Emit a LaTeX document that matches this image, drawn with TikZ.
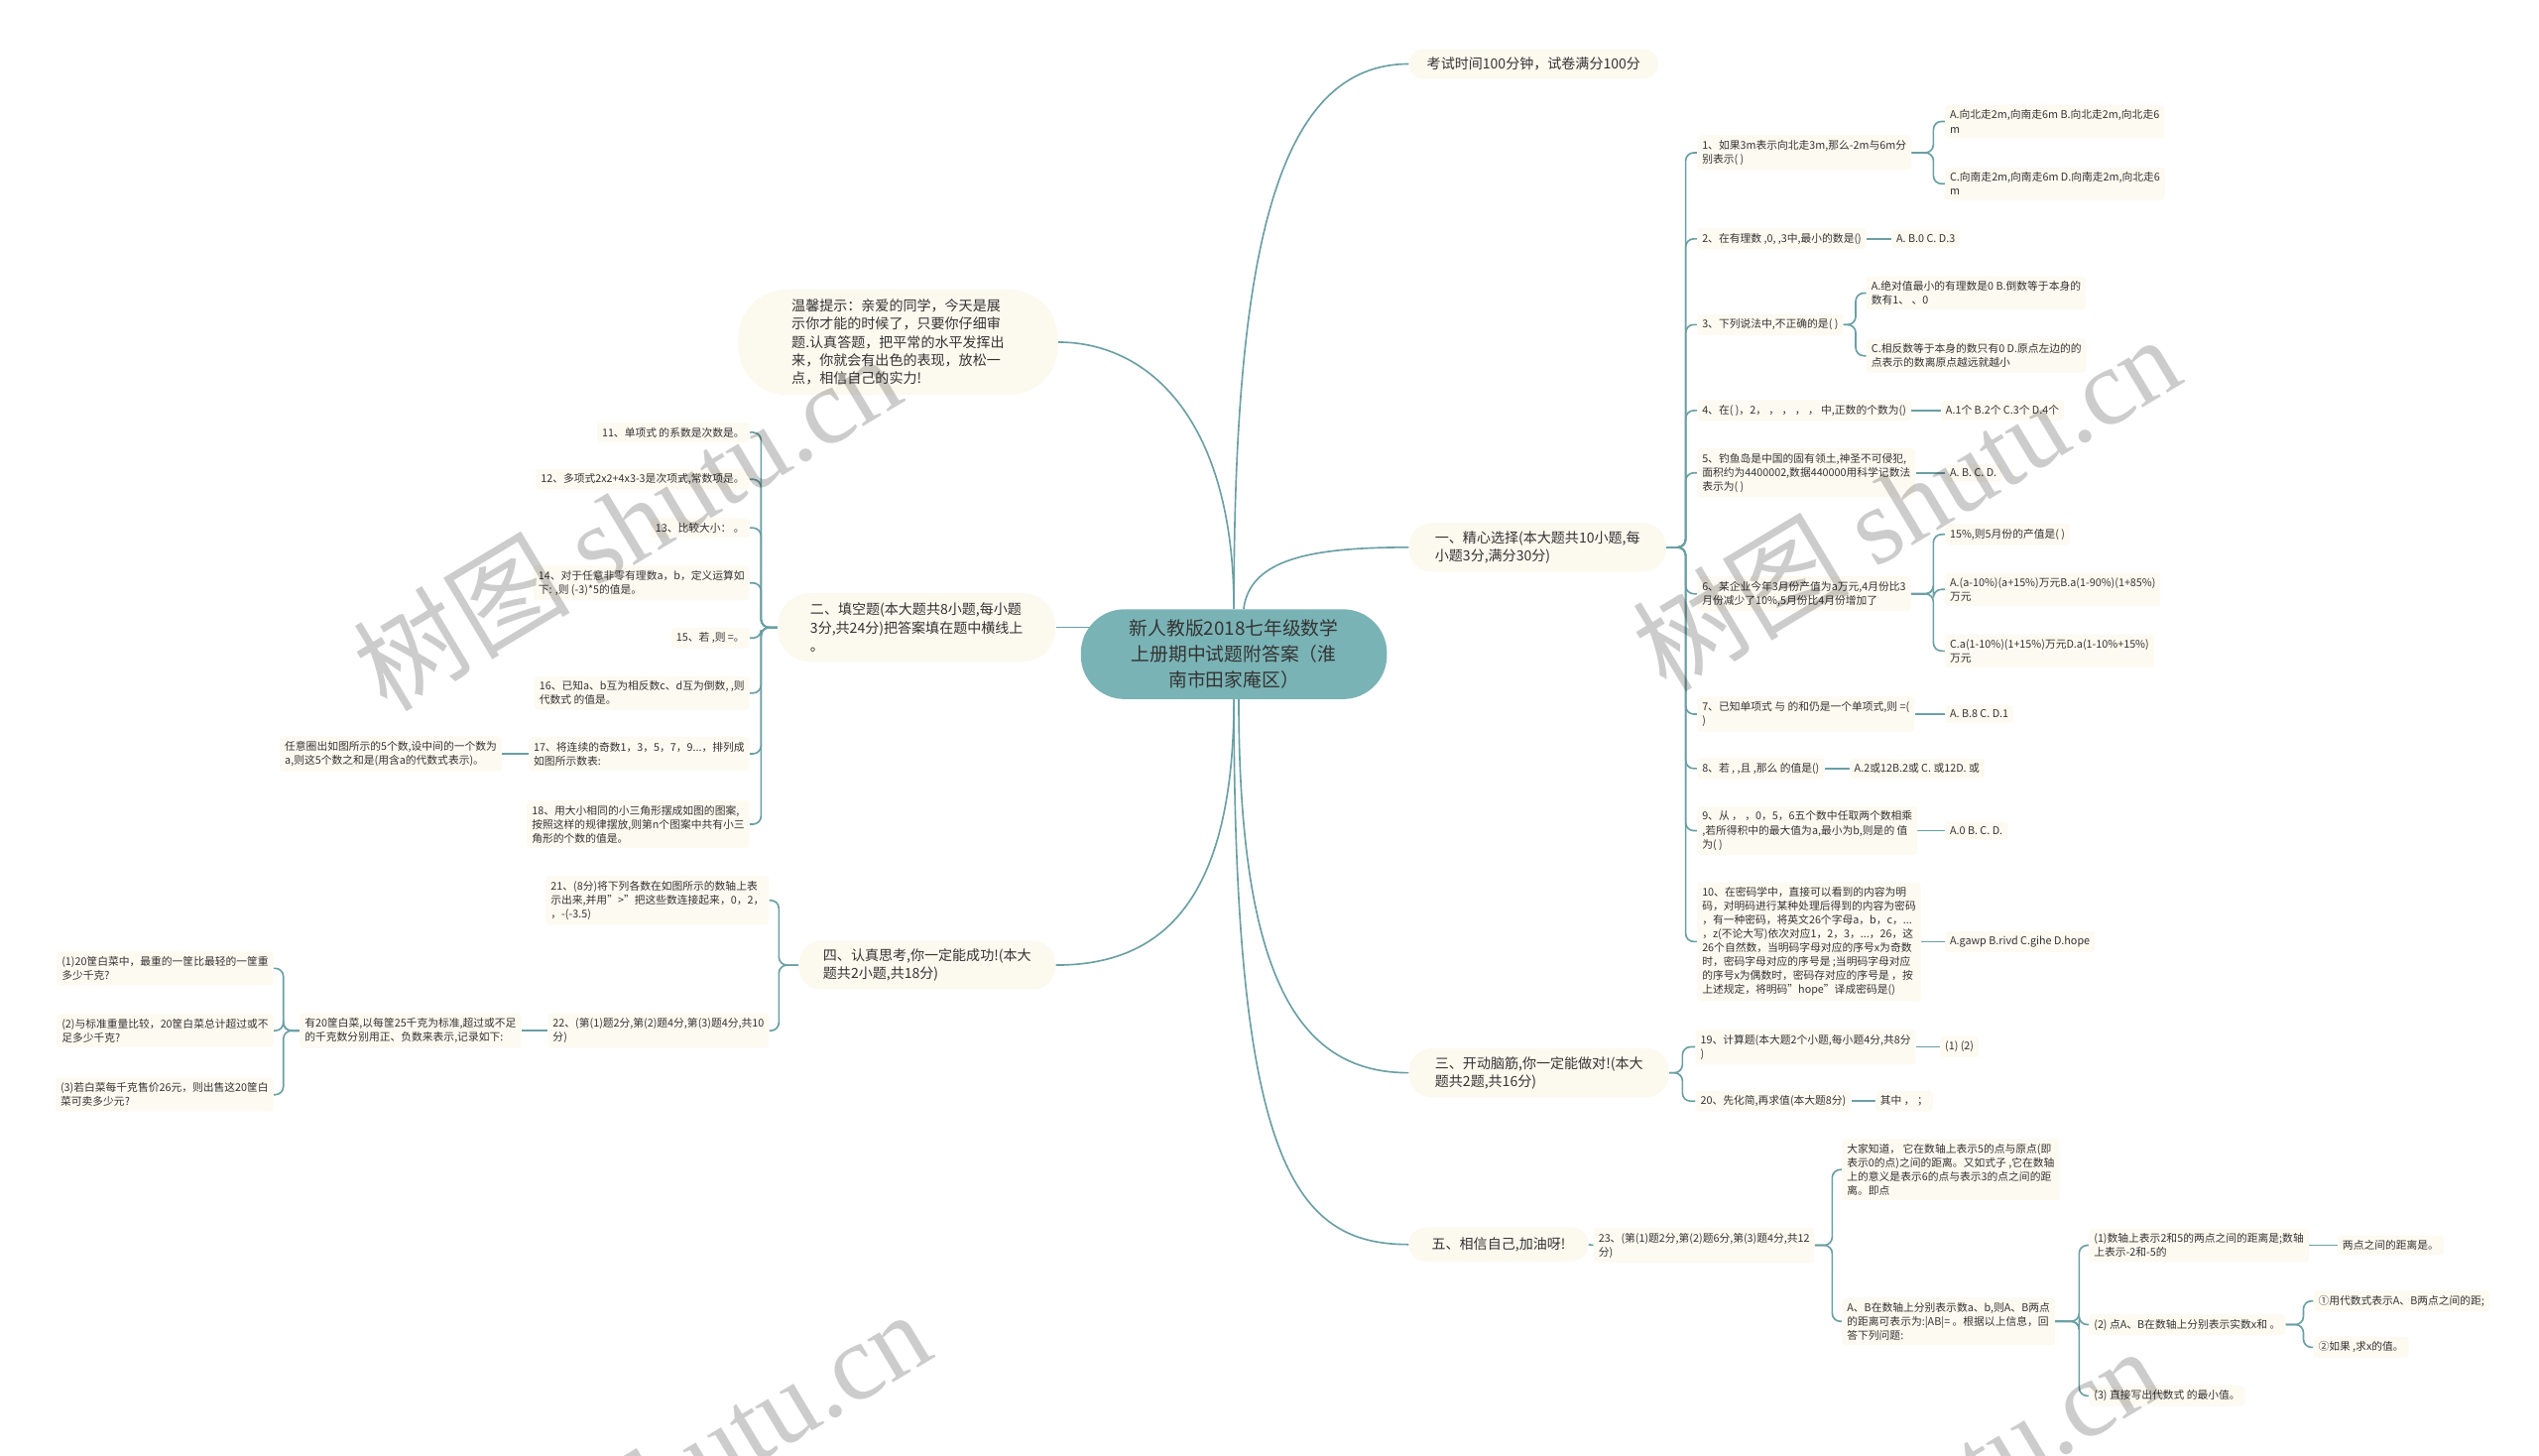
\documentclass[tikz,border=0pt]{standalone}
\usepackage{fontspec}
\setmainfont{Noto Sans CJK SC}
\newfontfamily\wmcjk{Noto Sans CJK SC}
\newfontfamily\wmlat{Liberation Serif}
\usetikzlibrary{backgrounds}
\definecolor{lnc}{HTML}{6A9FA4}
\definecolor{ctr}{HTML}{7AB3B5}
\definecolor{pillc}{HTML}{FCF9EF}
\definecolor{leafc}{HTML}{FDFAF1}
\definecolor{txt}{HTML}{333333}
\newcommand\myfs{\fontsize{6.6}{8.6}\selectfont}
\newcommand\myfm{\fontsize{8.6}{11.2}\selectfont}
\newcommand\myfc{\fontsize{11.5}{15.8}\selectfont}
\newcommand\wmtext{{\wmcjk 树图}\hspace{16pt}{\wmlat shutu.cn}}
\begin{document}
\begin{tikzpicture}[x=1pt,y=-1pt,
  lf/.style={fill=leafc, rounded corners=2pt, inner xsep=3pt, inner ysep=3pt, align=left, font=\myfs, text=txt},
  pill/.style={fill=pillc, rounded corners=14pt, inner xsep=16pt, inner ysep=5pt, align=left, font=\myfm, text=txt},
  ln/.style={draw=lnc, line width=1pt},
  br/.style={ln, rounded corners=5pt},
  wm/.style={text=black, text opacity=0.2, rotate=31, inner sep=0pt, font=\fontsize{67}{67}\selectfont}]
\useasboundingbox (0,0) rectangle (1568,899);

% centre
\node[pill, fill=ctr, font=\myfc, align=center, inner xsep=30pt, inner ysep=6.5pt, rounded corners=27pt] (c) at (762,404) {新人教版2018七年级数学\\上册期中试题附答案（淮\\南市田家庵区）};

% level 1 right
\node[pill, anchor=west, inner xsep=11pt, rounded corners=9pt] (k) at (870,39.5) {考试时间100分钟，试卷满分100分};
\node[pill, anchor=west] (s1) at (870,338) {一、精心选择(本大题共10小题,每\\小题3分,满分30分)};
\node[pill, anchor=west] (s3) at (870,662.5) {三、开动脑筋,你一定能做对!(本大\\题共2题,共16分)};
\node[pill, anchor=west, inner xsep=14pt, inner ysep=6pt, rounded corners=10pt] (s5) at (870,768.5) {五、相信自己,加油呀!};
% level 1 left
\node[pill, anchor=east, inner xsep=33pt, inner ysep=6pt, rounded corners=30pt] (w) at (653.5,211.3) {温馨提示：亲爱的同学，今天是展\\示你才能的时候了，只要你仔细审\\题.认真答题，把平常的水平发挥出\\来，你就会有出色的表现，放松一\\点，相信自己的实力!};
\node[pill, anchor=east, inner xsep=20pt, inner ysep=6pt, rounded corners=20pt] (s2) at (652,387.5) {二、填空题(本大题共8小题,每小题\\3分,共24分)把答案填在题中横线上\\。};
\node[pill, anchor=east, inner xsep=15pt] (s4) at (652,596) {四、认真思考,你一定能成功!(本大\\题共2小题,共18分)};

% section one
\node[lf, anchor=west] (q1) at (1048,94.3) {1、如果3m表示向北走3m,那么-2m与6m分\\别表示( )};
\node[lf, anchor=west] (q1a) at (1201,75) {A.向北走2m,向南走6m B.向北走2m,向北走6\\m};
\node[lf, anchor=west] (q1b) at (1201,113.5) {C.向南走2m,向南走6m D.向南走2m,向北走6\\m};
\node[lf, anchor=west] (q2) at (1048,147.5) {2、在有理数 ,0, ,3中,最小的数是()};
\node[lf, anchor=west] (q2a) at (1168,147.5) {A. B.0 C. D.3};
\node[lf, anchor=west] (q3) at (1048,200.5) {3、下列说法中,不正确的是( )};
\node[lf, anchor=west] (q3a) at (1152.5,181) {A.绝对值最小的有理数是0 B.倒数等于本身的\\数有1、 、0};
\node[lf, anchor=west] (q3b) at (1152.5,219.7) {C.相反数等于本身的数只有0 D.原点左边的的\\点表示的数离原点越远就越小};
\node[lf, anchor=west] (q4) at (1048,253.5) {4、在( )，2， ， ， ， ，  中,正数的个数为()};
\node[lf, anchor=west] (q4a) at (1198.5,253.5) {A.1个 B.2个 C.3个 D.4个};
\node[lf, anchor=west] (q5) at (1048,292) {5、钓鱼岛是中国的固有领土,神圣不可侵犯,\\面积约为4400002,数据440000用科学记数法\\表示为( )};
\node[lf, anchor=west] (q5a) at (1201,292) {A. B. C. D.};
\node[lf, anchor=west] (q6) at (1048,366.7) {6、某企业今年3月份产值为a万元,4月份比3\\月份减少了10\%,5月份比4月份增加了};
\node[lf, anchor=west] (q6a) at (1201,330) {15\%,则5月份的产值是( )};
\node[lf, anchor=west] (q6b) at (1201,364) {A.(a-10\%)(a+15\%)万元B.a(1-90\%)(1+85\%)\\万元};
\node[lf, anchor=west] (q6c) at (1201,402) {C.a(1-10\%)(1+15\%)万元D.a(1-10\%+15\%)\\万元};
\node[lf, anchor=west] (q7) at (1048,441) {7、已知单项式 与 的和仍是一个单项式,则 =(\\)};
\node[lf, anchor=west] (q7a) at (1201,441) {A. B.8 C. D.1};
\node[lf, anchor=west] (q8) at (1048,474.6) {8、若 , ,且 ,那么 的值是()};
\node[lf, anchor=west] (q8a) at (1142,474.6) {A.2或12B.2或 C. 或12D. 或};
\node[lf, anchor=west] (q9) at (1048,513) {9、从 ，  ，0，5，6五个数中任取两个数相乘\\,若所得积中的最大值为a,最小为b,则是的 值\\为( )};
\node[lf, anchor=west] (q9a) at (1201,513) {A.0 B. C. D.};
\node[lf, anchor=west] (q10) at (1048,581.5) {10、在密码学中，直接可以看到的内容为明\\码，对明码进行某种处理后得到的内容为密码\\，有一种密码，将英文26个字母a，b，c，...\\，z(不论大写)依次对应1，2，3，...，26，这\\26个自然数，当明码字母对应的序号x为奇数\\时，密码字母对应的序号是 ;当明码字母对应\\的序号x为偶数时，密码存对应的序号是 ，按\\上述规定，将明码"hope"译成密码是()};
\node[lf, anchor=west] (q10a) at (1201,581.5) {A.gawp B.rivd C.gihe D.hope};

% section three
\node[lf, anchor=west] (q19) at (1047,646.5) {19、计算题(本大题2个小题,每小题4分,共8分\\)};
\node[lf, anchor=west] (q19a) at (1198,646.5) {(1) (2)};
\node[lf, anchor=west] (q20) at (1047,680) {20、先化简,再求值(本大题8分)};
\node[lf, anchor=west] (q20a) at (1158,680) {其中 ，  ；};

% section five
\node[lf, anchor=west] (q23) at (984,769) {23、(第(1)题2分,第(2)题6分,第(3)题4分,共12\\分)};
\node[lf, anchor=west] (q23a) at (1137.5,722.3) {大家知道， 它在数轴上表示5的点与原点(即\\表示0的点)之间的距离。又如式子 ,它在数轴\\上的意义是表示6的点与表示3的点之间的距\\离。即点};
\node[lf, anchor=west] (q23b) at (1137.5,816) {A、B在数轴上分别表示数a、b,则A、B两点\\的距离可表示为:|AB|= 。根据以上信息，回\\答下列问题:};
\node[lf, anchor=west] (q23b1) at (1290,769) {(1)数轴上表示2和5的两点之间的距离是;数轴\\上表示-2和-5的};
\node[lf, anchor=west] (q23b1a) at (1443.5,769) {两点之间的距离是。};
\node[lf, anchor=west] (q23b2) at (1290,818) {(2) 点A、B在数轴上分别表示实数x和 。};
\node[lf, anchor=west] (q23b2a) at (1428.5,803.4) {①用代数式表示A、B两点之间的距;};
\node[lf, anchor=west] (q23b2b) at (1428.5,832) {②如果 ,求x的值。};
\node[lf, anchor=west] (q23b3) at (1290,862) {(3) 直接写出代数式 的最小值。};

% section two
\node[lf, anchor=east] (q11) at (463,267) {11、单项式 的系数是次数是。};
\node[lf, anchor=east] (q12) at (463,296) {12、多项式2x2+4x3-3是次项式,常数项是。};
\node[lf, anchor=east] (q13) at (463,326) {13、比较大小：  。};
\node[lf, anchor=east] (q14) at (463,360) {14、对于任意非零有理数a，b，定义运算如\\下: ,则 (-3)*5的值是。};
\node[lf, anchor=east] (q15) at (463,394) {15、若 ,则 =。};
\node[lf, anchor=east] (q16) at (463,428) {16、已知a、b互为相反数c、d互为倒数, ,则\\代数式 的值是。};
\node[lf, anchor=east] (q17) at (463,465.5) {17、将连续的奇数1，3，5，7，9...，排列成\\如图所示数表:};
\node[lf, anchor=east] (q17a) at (310,465.5) {任意圈出如图所示的5个数,设中间的一个数为\\a,则这5个数之和是(用含a的代数式表示)。};
\node[lf, anchor=east] (q18) at (463,509) {18、用大小相同的小三角形摆成如图的图案,\\按照这样的规律摆放,则第n个图案中共有小三\\角形的个数的值是。};

% section four
\node[lf, anchor=east] (q21) at (475,556) {21、(8分)将下列各数在如图所示的数轴上表\\示出来,并用">"把这些数连接起来，0，2，\\，-(-3.5)};
\node[lf, anchor=east] (q22) at (475,636.5) {22、(第(1)题2分,第(2)题4分,第(3)题4分,共10\\分)};
\node[lf, anchor=east] (q22a) at (322,636.5) {有20筐白菜,以每筐25千克为标准,超过或不足\\的千克数分别用正、负数来表示,记录如下:};
\node[lf, anchor=east] (q22a1) at (169,598) {(1)20筐白菜中，最重的一筐比最轻的一筐重\\多少千克?};
\node[lf, anchor=east] (q22a2) at (169,636.5) {(2)与标准重量比较，20筐白菜总计超过或不\\足多少千克?};
\node[lf, anchor=east] (q22a3) at (169,676) {(3)若白菜每千克售价26元，则出售这20筐白\\菜可卖多少元?};

\begin{pgfonlayer}{background}
\fill[white] (0,0) rectangle (1568,899);
% centre curves
\draw[ln] (c.north) .. controls (762,150) and (790,39.5) .. (k.west);
\draw[ln] ([xshift=6pt]c.north) .. controls (772,345) and (810,338) .. (s1.west);
\draw[ln] (c.north) .. controls (762,260) and (710,211.3) .. (w.east);
\draw[ln] (s2.east) -- (c.center |- s2.east);
\draw[ln] (c.south) .. controls (762,560) and (715,596) .. (s4.east);
\draw[ln] ([xshift=3pt]c.south) .. controls (765,610) and (805,662.5) .. (s3.west);
\draw[ln] (c.south) .. controls (762,720) and (800,768.5) .. (s5.west);
% section one
\foreach \q in {q1,q2,q3,q4,q5,q6,q7,q8,q9,q10}
  \draw[br] (s1.east) -- (1041,338) |- (\q.west);
\foreach \q in {q1a,q1b} \draw[br] (q1.east) -- (1194,94.3) |- (\q.west);
\foreach \q in {q3a,q3b} \draw[br] (q3.east) -- (1146,200.5) |- (\q.west);
\foreach \q in {q6a,q6b,q6c} \draw[br] (q6.east) -- (1194,366.7) |- (\q.west);
\draw[ln] (q2.east) -- (q2a.west);
\draw[ln] (q4.east) -- (q4a.west);
\draw[ln] (q5.east) -- (q5a.west);
\draw[ln] (q7.east) -- (q7a.west);
\draw[ln] (q8.east) -- (q8a.west);
\draw[ln] (q9.east) -- (q9a.west);
\draw[ln] (q10.east) -- (q10a.west);
% section three
\foreach \q in {q19,q20} \draw[br] (s3.east) -- (1039,662.5) |- (\q.west);
\draw[ln] (q19.east) -- (q19a.west);
\draw[ln] (q20.east) -- (q20a.west);
% section five
\draw[ln] (s5.east) -- (q23.west);
\foreach \q in {q23a,q23b} \draw[br] (q23.east) -- (1131.5,769) |- (\q.west);
\foreach \q in {q23b1,q23b2,q23b3} \draw[br] (q23b.east) -- (1284,816) |- (\q.west);
\draw[ln] (q23b1.east) -- (q23b1a.west);
\foreach \q in {q23b2a,q23b2b} \draw[br] (q23b2.east) -- (1422.5,818) |- (\q.west);
% section two
\foreach \q in {q11,q12,q13,q14,q15,q16,q17,q18}
  \draw[br] (s2.west) -- (470,387.5) |- (\q.east);
\draw[ln] (q17.west) -- (q17a.east);
% section four
\foreach \q in {q21,q22} \draw[br] (s4.west) -- (481,596) |- (\q.east);
\draw[ln] (q22.west) -- (q22a.east);
\foreach \q in {q22a1,q22a2,q22a3} \draw[br] (q22a.west) -- (175,636.5) |- (\q.east);
\end{pgfonlayer}

% watermarks
\begin{scope}
\clip (0,0) rectangle (1568,899);
\node[wm] (wm1) at (387,322) {\wmtext};
\node[wm] (wm2) at (1177,310) {\wmtext};
\node[wm] (wm3) at (405,912) {\wmtext};
\node[wm] (wm4) at (1165,935) {\wmtext};
\end{scope}
\end{tikzpicture}
\end{document}
